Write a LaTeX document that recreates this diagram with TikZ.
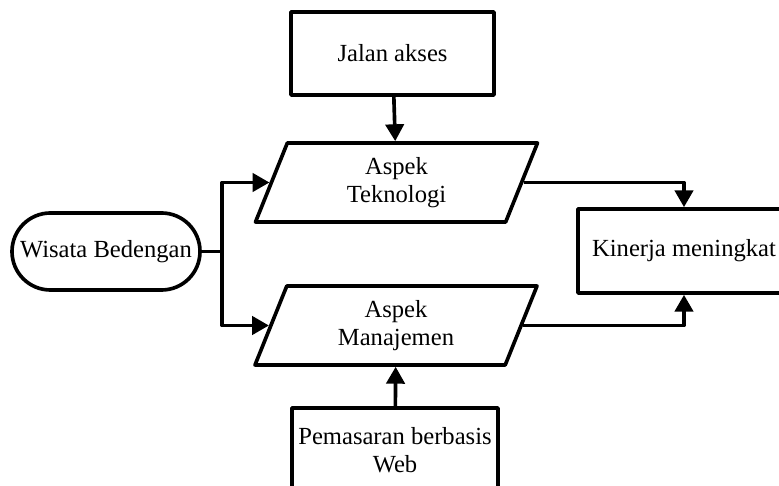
\documentclass[tikz,border=0pt]{standalone}
\usepackage{fontspec}
\setmainfont{Liberation Serif}
\usepackage{tikz}
\usetikzlibrary{shapes.geometric}
\usetikzlibrary{arrows.meta}

\begin{document}
\begin{tikzpicture}[
    line width=2.6pt, line join=round,
    >={Triangle[length=12pt,width=13pt]},
    font=\fontsize{17.5}{20}\selectfont,
    box/.style={draw, rectangle, align=center},
    io/.style={draw, trapezium, trapezium left angle=62, trapezium right angle=118,
      trapezium stretches body, minimum width=7.05cm, minimum height=1.975cm, align=center},
    term/.style={draw, rectangle, rounded corners=0.96cm, minimum width=4.7cm, minimum height=1.925cm}
  ]
    \clip (0,0) rectangle (19.475,12.15);
    %start
    \node[term] (wisata) at (2.65,5.8625) {Wisata Bedengan};
    %inputs
    \node[box, minimum width=5.075cm, minimum height=2.075cm] (jalan) at (9.8125,10.8125) {Jalan akses};
    \node[box, minimum width=5.15cm, minimum height=2.1cm] (pemasaran) at (9.875,0.9) {Pemasaran berbasis\\Web};
    %aspects
    \node[io] (teknologi) at (9.9125,7.5875) {Aspek\\Teknologi};
    \node[io] (manajemen) at (9.9,4.0125) {Aspek\\Manajemen};
    %result
    \node[box, minimum width=5.3cm, minimum height=2.1cm] (kinerja) at (17.1,5.875) {Kinerja meningkat};
    %arrows
    \coordinate (split) at (5.55,5.8625);
    \draw (wisata.east) -- (split);
    \draw[->] (split) |- (teknologi);
    \draw[->] (split) |- (manajemen);
    \draw[->] (jalan) -- (teknologi);
    \draw[->] (pemasaran) -- (manajemen);
    \draw[->] (teknologi) -| (kinerja);
    \draw[->] (manajemen) -| (kinerja);
  \end{tikzpicture}
\end{document}
